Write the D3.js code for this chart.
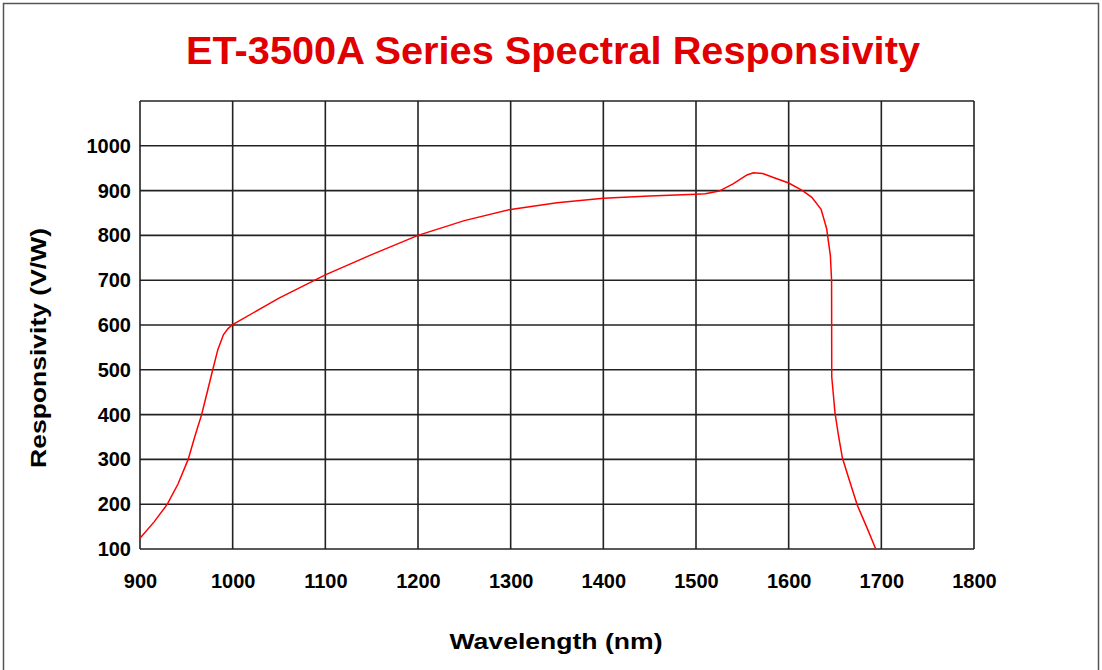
<!DOCTYPE html>
<html><head><meta charset="utf-8">
<script src="https://cdn.jsdelivr.net/npm/d3@7"></script>
<style>body{margin:0;background:#fff}svg{display:block}text{font-family:"Liberation Sans",Arial,sans-serif;font-weight:bold}</style>
</head><body><svg id="c" width="1102" height="670"></svg>
<script>
const wavelength = [900,915,929.5,941,952,959,966.5,972.5,978.5,984,990,995,1000,1050,1100,1150,1200,1250,1300,1350,1400,1450,1500,1510,1525,1540,1555,1562,1572,1585,1600,1615,1625,1635,1641,1645,1646.3,1646.5,1648,1650,1654,1658,1666,1674,1684,1694];
const responsivity = [124,160,200,245,300,350,400,450,500,545,578,592,601,660,712,757,800,833,858,873,883,888,892,893,899,915,935,940,938,928,917,900,885,858,815,755,700,484,450,404,350,303,250,198,150,100];
const xTicks = [900,1000,1100,1200,1300,1400,1500,1600,1700,1800];
const yTicks = [100,200,300,400,500,600,700,800,900,1000];
const yGrid = [100,200,300,400,500,600,700,800,900,1000,1100];

const svg = d3.select("#c");
const L=140,R=974,T=101,B=549;
const x = d3.scaleLinear().domain([900,1800]).range([L,R]);
const y = d3.scaleLinear().domain([100,1100]).range([B,T]);

svg.append("rect").attr("x",3.5).attr("y",3.5).attr("width",1095).attr("height",700)
  .attr("fill","none").attr("stroke","#555").attr("stroke-width",1.5);

svg.append("text").attr("x",553).attr("y",64).attr("text-anchor","middle")
  .attr("fill","#e00000").attr("font-size",39)
  .attr("textLength",734).attr("lengthAdjust","spacingAndGlyphs")
  .text("ET-3500A Series Spectral Responsivity");

const g = svg.append("g");
g.selectAll(".vg").data(xTicks).join("line")
  .attr("x1",d=>x(d)).attr("x2",d=>x(d)).attr("y1",T).attr("y2",B)
  .attr("stroke","#222").attr("stroke-width",1.6);
g.selectAll(".hg").data(yGrid).join("line").attr("class","hg")
  .attr("x1",L).attr("x2",R).attr("y1",d=>y(d)).attr("y2",d=>y(d))
  .attr("stroke","#222").attr("stroke-width",1.6);

const xAxis = d3.axisBottom(x).tickValues(xTicks).tickSize(0).tickPadding(0).tickFormat(d3.format("d"));
const xa = svg.append("g").attr("transform",`translate(0,${B})`).call(xAxis);
xa.select(".domain").remove();
xa.selectAll("text").attr("y",32).attr("dy","0.35em").attr("fill","#000")
  .attr("font-size",20).attr("font-family","Liberation Sans, Arial, sans-serif").attr("font-weight","bold");

const yAxis = d3.axisLeft(y).tickValues(yTicks).tickSize(0).tickPadding(9).tickFormat(d3.format("d"));
const ya = svg.append("g").attr("transform",`translate(${L},0)`).call(yAxis);
ya.select(".domain").remove();
ya.selectAll("text").attr("fill","#000").attr("font-size",20)
  .attr("font-family","Liberation Sans, Arial, sans-serif").attr("font-weight","bold");

svg.append("path").datum(wavelength.map((w,i)=>[w,responsivity[i]]))
  .attr("fill","none").attr("stroke","#ff0000").attr("stroke-width",1.5)
  .attr("d",d3.line().x(d=>x(d[0])).y(d=>y(d[1])).curve(d3.curveLinear));

svg.append("text").attr("x",556).attr("y",649).attr("text-anchor","middle")
  .attr("font-size",22).attr("fill","#000").attr("textLength",213).attr("lengthAdjust","spacingAndGlyphs")
  .text("Wavelength (nm)");
svg.append("text").attr("transform","translate(46,348) rotate(-90)").attr("text-anchor","middle")
  .attr("font-size",22).attr("fill","#000").attr("textLength",240).attr("lengthAdjust","spacingAndGlyphs")
  .text("Responsivity (V/W)");
</script></body></html>
